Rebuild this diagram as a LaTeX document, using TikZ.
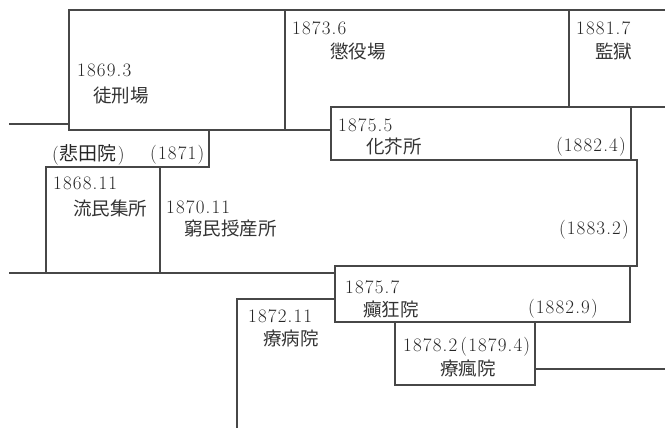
\documentclass[tikz,border=0pt]{standalone}
\usepackage{fontspec}
\newfontfamily\cjk{Noto Sans CJK JP}
\newfontfamily\numf{Latin Modern Roman}[LetterSpace=6]
\begin{document}
\begin{tikzpicture}[x=1pt,y=-1pt,
  ln/.style={draw=black!72,line width=1.3pt,line cap=rect},
  num/.style={inner sep=0pt,anchor=west,font=\fontsize{19}{21}\selectfont\numf,text=black!85},
  numr/.style={inner sep=0pt,anchor=east,font=\fontsize{19}{21}\selectfont\numf,text=black!85},
  jp/.style={inner sep=0pt,anchor=west,font=\fontsize{18.5}{21}\selectfont\cjk,text=black!80}]
\useasboundingbox (0,0) rectangle (665,428);
% top band
\draw[ln] (665,10) -- (69,10) -- (69,130) -- (331,130);
\draw[ln] (10,124) -- (69,124);
\draw[ln] (285,10) -- (285,130);
\draw[ln] (569,10) -- (569,107);
% 化芥所
\draw[ln] (665,107) -- (331,107) -- (331,160) -- (637,160);
\draw[ln] (631,107) -- (631,160);
% 悲田院 / 流民集所 / 窮民授産所
\draw[ln] (209,130) -- (209,167) -- (46,167) -- (46,273);
\draw[ln] (160,167) -- (160,273);
\draw[ln] (637,160) -- (637,266) -- (335,266);
\draw[ln] (10,273) -- (335,273);
% 癲狂院
\draw[ln] (335,266) -- (335,322) -- (630,322) -- (630,266);
% 療病院
\draw[ln] (335,299) -- (237,299) -- (237,428);
% 療瘋院
\draw[ln] (395,322) -- (395,385) -- (535,385) -- (535,322);
\draw[ln] (535,369) -- (665,369);
% texts
\node[num] (t1) at (77,70) {1869.3};
\node[jp]  (j1) at (93,95) {徒刑場};
\node[num] (t2) at (292,28) {1873.6};
\node[jp]  (j2) at (330,52) {懲役場};
\node[num] (t3) at (576,28) {1881.7};
\node[jp]  (j3) at (595,52) {監獄};
\node[num] (t4) at (338,125) {1875.5};
\node[jp]  (j4) at (366,147) {化芥所};
\node[numr] (e4) at (626,147) {(1882.4)};
\node[num] (p1) at (52,155) {(\hspace{1pt}{\cjk 悲田院}\hspace{1pt})};
\node[num] (p2) at (150,155) {(1871)};
\node[num] (t5) at (53,183) {1868.11};
\node[jp]  (j5) at (73,208) {流民集所};
\node[num] (t6) at (166,207) {1870.11};
\node[jp]  (j6) at (184,228) {窮民授産所};
\node[numr] (e6) at (629,230) {(1883.2)};
\node[num] (t7) at (345,287) {1875.7};
\node[jp]  (j7) at (363,309) {癲狂院};
\node[numr] (e7) at (598,309) {(1882.9)};
\node[num] (t8) at (248,316) {1872.11};
\node[jp]  (j8) at (263,338) {療病院};
\node[num] (t9) at (403,347) {1878.2\,(1879.4)};
\node[jp]  (j9) at (440,368) {療瘋院};
\end{tikzpicture}
\end{document}
